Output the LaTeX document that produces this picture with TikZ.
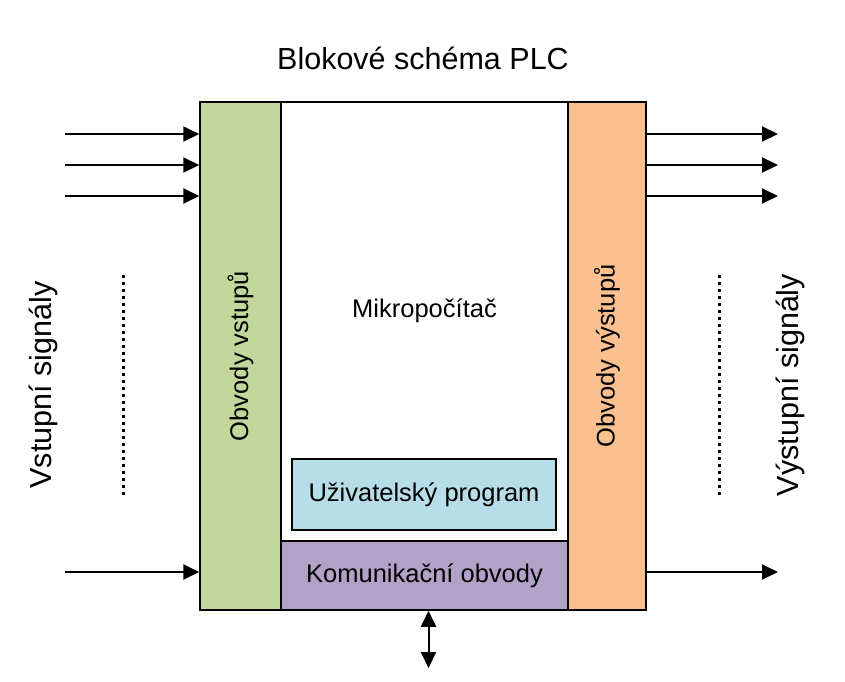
\documentclass[tikz,border=0pt]{standalone}
\usepackage{fontspec}
\setmainfont{Liberation Sans}
\usetikzlibrary{arrows.meta}
\usetikzlibrary{calc}
\usetikzlibrary{positioning}

\definecolor{vstupcol}{HTML}{C3D69B}
\definecolor{vystupcol}{HTML}{FAC090}
\definecolor{komcol}{HTML}{B3A2C7}
\definecolor{progcol}{HTML}{B7DEE8}

\begin{document}
\begin{tikzpicture}[x=1pt,y=-1pt,
    blok/.style={draw=black, line width=1.5pt, inner sep=0pt, font=\fontsize{25.5}{30}\selectfont},
    popis/.style={font=\fontsize{25.5}{30}\selectfont},
    velky/.style={font=\fontsize{30.5}{36}\selectfont},
    sig/.style={-{Triangle[length=16pt,width=15pt]}, line width=2pt},
    tecky/.style={line width=3pt, dash pattern=on 3pt off 4pt}]
    \useasboundingbox (0,0) rectangle (845,681);
    \node[velky, anchor=base] (T) at (423,69) {Blokové schéma PLC};
    \node[blok, fill=white, minimum width=287pt, minimum height=439pt] (M) at (424.5,321.5) {};
    \node[popis, anchor=base] (Mt) at (424.5,317) {Mikropočítač};
    \node[blok, fill=progcol, minimum width=264pt, minimum height=71pt] (U) at (424,494.5) {Uživatelský program};
    \node[blok, fill=komcol, minimum width=287pt, minimum height=69pt] (K) at (424.5,575.5) {Komunikační obvody};
    \node[blok, fill=vstupcol, minimum width=81pt, minimum height=508pt] (I) at (240.5,356) {\rotatebox{90}{Obvody vstupů}};
    \node[blok, fill=vystupcol, minimum width=78pt, minimum height=508pt] (O) at (607,356) {\rotatebox{90}{Obvody výstupů}};
    \node[velky, rotate=90] (Lv) at (43,385) {Vstupní signály};
    \node[velky, rotate=90] (Lo) at (790,385) {Výstupní signály};
    % vstupy
    \foreach \i/\y in {1/134,2/165,3/196,4/572} {
        \coordinate (a\i) at (65,\y);
        \coordinate (b\i) at (778,\y);
        \draw[sig] (a\i) -- (I.west |- a\i);
        \draw[sig] (O.east |- b\i) -- (b\i);
    }
    % tecky
    \coordinate (t1) at (123,275);
    \coordinate (t2) at (123,495);
    \coordinate (t3) at (719,275);
    \coordinate (t4) at (719,495);
    \draw[tecky] (t1) -- (t2);
    \draw[tecky] (t3) -- (t4);
    % sbernice
    \coordinate (bus) at (428.5,668);
    \draw[sig, {Triangle[length=16pt,width=15pt]}-{Triangle[length=16pt,width=15pt]}] (K.south -| bus) -- (bus);
\end{tikzpicture}
\end{document}
